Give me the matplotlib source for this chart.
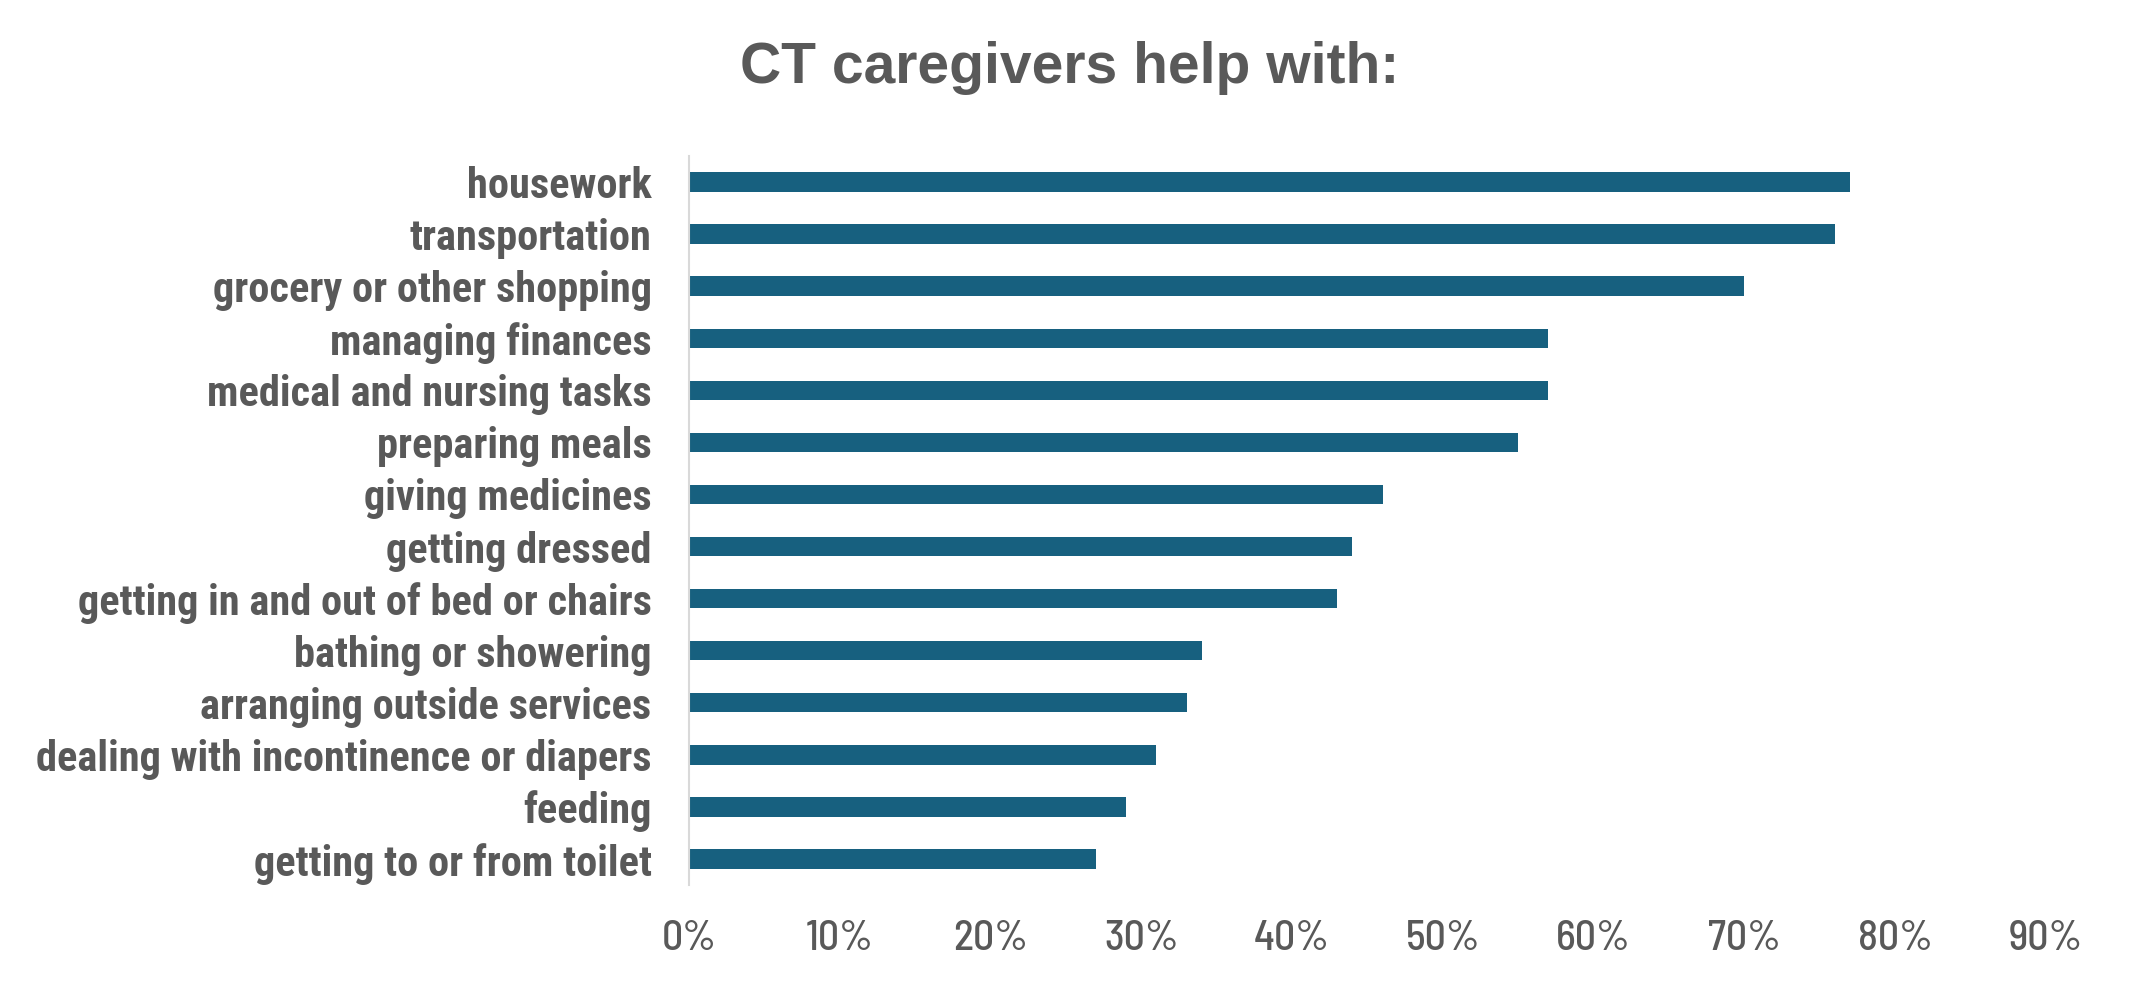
import matplotlib
matplotlib.use("Agg")
import matplotlib.pyplot as plt
from matplotlib.ticker import PercentFormatter

# Tasks and share of caregivers helping
tasks = [
    "housework",
    "transportation",
    "grocery or other shopping",
    "managing finances",
    "medical and nursing tasks",
    "preparing meals",
    "giving medicines",
    "getting dressed",
    "getting in and out of bed or chairs",
    "bathing or showering",
    "arranging outside services",
    "dealing with incontinence or diapers",
    "feeding",
    "getting to or from toilet",
]
shares = [0.77, 0.76, 0.70, 0.57, 0.57, 0.55, 0.46, 0.44, 0.43, 0.34, 0.33, 0.31, 0.29, 0.27]
x_ticks = [0.0, 0.1, 0.2, 0.3, 0.4, 0.5, 0.6, 0.7, 0.8, 0.9]

label_font = ["Roboto Condensed", "Liberation Sans Narrow", "DejaVu Sans"]
tick_font = ["Barlow Semi Condensed", "Roboto Condensed", "DejaVu Sans"]
text_color = "#595959"
bar_color = "#17607F"

fig = plt.figure(figsize=(21.4, 9.99), dpi=100)
ax = fig.add_axes([0.322, 0.114, 0.634, 0.730])

y = list(range(len(tasks)))
ax.barh(y, shares, height=0.37, color=bar_color)
ax.set_ylim(len(tasks) - 0.5, -0.5)
ax.set_xlim(0, 0.9)

ax.set_yticks(y)
ax.set_yticklabels(tasks, fontfamily=label_font, fontweight="bold",
                   fontsize=30.5, color=text_color)
ax.set_xticks(x_ticks)
ax.xaxis.set_major_formatter(PercentFormatter(1.0, decimals=0))
for lbl in ax.get_xticklabels():
    lbl.set_fontfamily(tick_font)
    lbl.set_fontsize(30)
    lbl.set_fontweight("medium")
    lbl.set_color(text_color)

ax.tick_params(axis="y", length=0, pad=27)
ax.tick_params(axis="x", length=0, pad=25)

for side in ["top", "right", "bottom"]:
    ax.spines[side].set_visible(False)
ax.spines["left"].set_color("#D9D9D9")
ax.spines["left"].set_linewidth(1.5)

fig.text(0.5, 1 - 68 / 999, "CT caregivers help with:", ha="center", va="center",
         fontsize=41, fontweight="bold", color=text_color,
         fontfamily=["Liberation Sans", "DejaVu Sans"])

fig.savefig("out.png", dpi=100, facecolor="white")
